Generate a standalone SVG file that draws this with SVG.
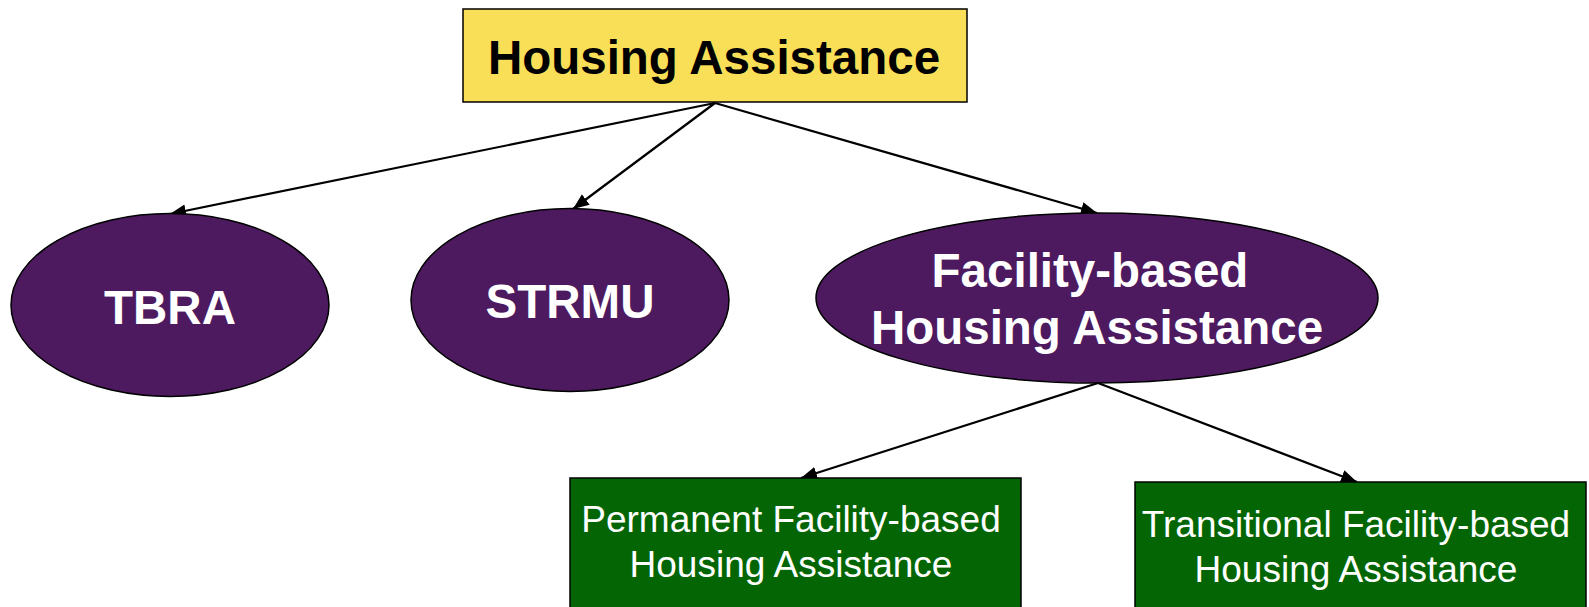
<svg xmlns="http://www.w3.org/2000/svg" width="1589" height="607" viewBox="0 0 1589 607">
  <style>
    .bold { font-family: "Liberation Sans", Arial, sans-serif; font-weight: bold; font-size: 47.5px; text-anchor: middle; }
    .reg { font-family: "Liberation Sans", Arial, sans-serif; font-size: 37px; text-anchor: middle; fill: #ffffff; }
    .oval { fill: #4d1a5f; stroke: #000000; stroke-width: 1.5; }
    .green { fill: #046504; stroke: #000000; stroke-width: 1.5; }
    .edge { stroke: #000000; stroke-width: 2.2; fill: none; marker-end: url(#arrow); }
  </style>
  <defs>
    <marker id="arrow" markerUnits="userSpaceOnUse" markerWidth="18" markerHeight="14" refX="16" refY="6.5" orient="auto">
      <path d="M0,0 L16,6.5 L0,13 z" fill="#000000"/>
    </marker>
  </defs>
  <rect width="1589" height="607" fill="#ffffff"/>

  <g id="connectors">
    <line class="edge" x1="715" y1="103" x2="170" y2="214"/>
    <line class="edge" x1="715" y1="103" x2="573" y2="209"/>
    <line class="edge" x1="715" y1="103" x2="1097" y2="213"/>
    <line class="edge" x1="1098" y1="383" x2="801" y2="478"/>
    <line class="edge" x1="1098" y1="383" x2="1357" y2="482"/>
  </g>

  <g id="housing-assistance">
    <rect x="463" y="9" width="504" height="93" fill="#f9de57" stroke="#000000" stroke-width="1.5"/>
    <text class="bold" x="714" y="74" fill="#000000">Housing Assistance</text>
  </g>

  <g id="tbra">
    <ellipse class="oval" cx="170" cy="305" rx="159" ry="91.5"/>
    <text class="bold" x="170" y="324" fill="#ffffff">TBRA</text>
  </g>

  <g id="strmu">
    <ellipse class="oval" cx="570" cy="300" rx="159" ry="91.5"/>
    <text class="bold" x="570" y="318" fill="#ffffff">STRMU</text>
  </g>

  <g id="facility-based">
    <ellipse class="oval" cx="1097" cy="298" rx="281" ry="85"/>
    <text class="bold" x="1090" y="287" fill="#ffffff">Facility-based</text>
    <text class="bold" x="1097" y="344" fill="#ffffff">Housing Assistance</text>
  </g>

  <g id="permanent">
    <rect class="green" x="570" y="478" width="451" height="140"/>
    <text class="reg" x="791" y="532">Permanent Facility-based</text>
    <text class="reg" x="791" y="577">Housing Assistance</text>
  </g>

  <g id="transitional">
    <rect class="green" x="1135" y="482" width="451" height="140"/>
    <text class="reg" x="1356" y="537">Transitional Facility-based</text>
    <text class="reg" x="1356" y="582">Housing Assistance</text>
  </g>
</svg>
